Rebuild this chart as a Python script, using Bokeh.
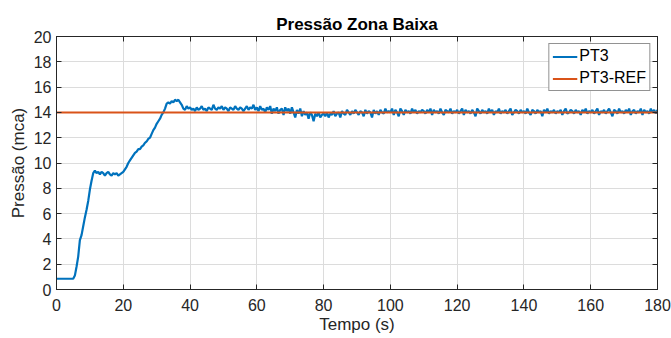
import numpy as np
from bokeh.plotting import figure
from bokeh.models import LinearAxis, Range1d, FixedTicker, Legend, LegendItem
from bokeh.embed import file_html
from bokeh.resources import INLINE

# ---- data (0.5 s sampling) ----
pt3_0_40 = [
    0.85, 0.85, 0.85, 0.85, 0.85, 0.85, 0.85, 0.85, 0.85, 0.85, 0.85, 1.1, 1.8, 2.6, 3.9, 4.3, 5.0, 5.7, 6.3, 7.0,
    7.9, 8.6, 9.2, 9.4, 9.2, 9.3, 9.1, 9.3, 9.2, 9.0, 9.2, 9.3, 9.1, 9.0, 9.2, 9.1, 9.2, 9.0, 9.1, 9.2,
    9.3, 9.5, 9.7, 10.0, 10.2, 10.4, 10.6, 10.8, 10.9, 11.1, 11.1, 11.3, 11.4, 11.6, 11.7, 11.9, 12.0, 12.3, 12.6, 12.8,
    13.1, 13.3, 13.5, 13.8, 14.0, 14.3, 14.7, 14.8, 14.7, 14.9, 14.8, 15.0, 14.9, 15.0, 14.8, 14.6, 14.3, 14.2, 14.5, 14.3,
]
pt3_40_80 = [
    14.4, 14.2, 14.3, 14.1, 14.4, 14.2, 14.3, 14.5, 14.2, 14.3, 14.1, 14.4, 14.3, 14.2, 14.6, 14.3, 14.2, 14.4, 14.3, 14.5,
    14.2, 14.4, 14.3, 14.1, 14.4, 14.3, 14.2, 14.5, 14.3, 14.2, 14.4, 14.3, 14.1, 14.3, 14.5, 14.2, 14.4, 14.3, 14.6, 14.2,
    14.4, 14.1, 14.5, 14.2, 14.3, 14.0, 14.4, 14.2, 14.5, 13.9, 14.3, 14.1, 14.4, 13.9, 14.2, 14.3, 13.8, 14.4, 14.1, 14.3,
    13.9, 14.4, 14.0, 13.6, 14.2, 13.9, 14.3, 13.7, 14.1, 13.8, 14.0, 13.5, 14.0, 13.8, 13.3, 13.9, 13.7, 14.0, 13.6, 13.8,
]
pt3_80_120 = [
    13.9, 13.7, 14.0, 13.6, 13.9, 13.8, 14.1, 13.7, 13.9, 14.0, 13.6, 14.1, 13.9, 13.8, 14.2, 14.0, 13.8, 14.1, 13.9, 14.2,
    14.0, 13.8, 14.1, 14.0, 13.7, 14.2, 13.9, 14.1, 14.0, 13.6, 14.2, 13.9, 14.1, 13.8, 14.2, 14.0, 13.9, 14.3, 14.0, 14.1,
    14.0, 14.3, 13.8, 14.2, 14.0, 13.7, 14.3, 14.1, 13.8, 14.2, 14.0, 14.1, 13.9, 14.3, 14.0, 14.2, 13.9, 14.1, 14.0, 14.2,
    14.1, 13.9, 14.2, 14.0, 14.3, 13.8, 14.2, 14.0, 14.1, 13.9, 14.3, 14.0, 13.8, 14.2, 14.1, 14.0, 14.3, 13.9, 14.1, 14.0,
]
pt3_120_180 = [
    14.2, 13.9, 14.1, 14.3, 13.8, 14.2, 14.0, 14.1, 13.9, 14.2, 14.0, 13.7, 14.3, 14.1, 13.9, 14.2, 14.0, 14.1, 13.9, 14.3,
    14.0, 14.2, 13.8, 14.1, 14.0, 14.3, 13.9, 14.1, 14.0, 14.2, 13.9, 14.1, 14.3, 13.8, 14.0, 14.2, 14.1, 13.9, 14.2, 14.0,
    14.1, 13.9, 14.3, 14.0, 13.8, 14.2, 14.1, 13.9, 14.2, 14.0, 14.1, 13.7, 14.2, 14.0, 14.3, 13.9, 14.1, 14.0, 14.2, 13.9,
    14.1, 14.0, 14.2, 13.8, 14.1, 14.3, 13.9, 14.0, 14.2, 14.1, 13.9, 14.2, 14.0, 14.1, 13.8, 14.2, 14.0, 14.3, 13.9, 14.1,
    14.0, 14.2, 13.9, 14.1, 14.3, 13.8, 14.1, 14.0, 14.2, 13.9, 14.1, 14.3, 14.0, 13.7, 14.2, 14.1, 13.9, 14.3, 14.0, 14.1,
    13.9, 14.2, 14.0, 14.3, 13.8, 14.1, 14.2, 13.9, 14.1, 14.0, 14.3, 13.8, 14.2, 14.0, 14.1, 13.9, 14.3, 14.0, 14.2, 13.9, 14.2,
]
pt3 = pt3_0_40 + pt3_40_80 + pt3_80_120 + pt3_120_180
tempo = [i * 0.5 for i in range(len(pt3))]
ref_t = [0, 180]
ref_v = [14, 14]
x_ticks = [0, 20, 40, 60, 80, 100, 120, 140, 160, 180]
y_ticks = [0, 2, 4, 6, 8, 10, 12, 14, 16, 18, 20]

FONT = "Liberation Sans"
TXT = "#262626"

p = figure(width=671, height=338, output_backend="svg", toolbar_location=None,
           x_range=Range1d(0, 180), y_range=Range1d(0, 20),
           min_border_left=56, min_border_right=14, min_border_top=36, min_border_bottom=49)
p.title.text = "Pressão Zona Baixa"
p.title.align = "center"
p.title.text_font = FONT
p.title.text_font_size = "17px"
p.title.text_font_style = "bold"
p.title.text_color = "#000000"
p.title.standoff = 5

for ax in (p.xaxis[0], p.yaxis[0]):
    ax.major_label_text_font = FONT
    ax.major_label_text_font_size = "16px"
    ax.major_label_text_color = TXT
    ax.axis_label_text_font = FONT
    ax.axis_label_text_font_size = "17px"
    ax.axis_label_text_font_style = "normal"
    ax.axis_label_text_color = TXT
    ax.axis_line_color = TXT
    ax.major_tick_line_color = TXT
    ax.major_tick_in = 5
    ax.major_tick_out = 0
    ax.minor_tick_line_color = None

p.xaxis.ticker = FixedTicker(ticks=x_ticks)
p.yaxis.ticker = FixedTicker(ticks=y_ticks)
p.xaxis.axis_label = "Tempo (s)"
p.yaxis.axis_label = "Pressão (mca)"
p.xaxis.major_label_standoff = 9
p.yaxis.major_label_standoff = 5
p.xaxis.axis_label_standoff = 1
p.yaxis.axis_label_standoff = 3

for loc, tk in (("above", x_ticks), ("right", y_ticks)):
    a = LinearAxis(ticker=FixedTicker(ticks=tk), major_label_text_font_size="1px",
                   major_label_text_color=None,
                   major_label_standoff=0, major_tick_in=5, major_tick_out=0,
                   minor_tick_line_color=None, axis_line_color=TXT, major_tick_line_color=TXT)
    p.add_layout(a, loc)

p.xgrid.ticker = FixedTicker(ticks=x_ticks)
p.ygrid.ticker = FixedTicker(ticks=y_ticks)
p.grid.grid_line_color = "#dcdcdc"
p.grid.grid_line_width = 1
p.outline_line_color = TXT

r1 = p.line(tempo, pt3, line_color="#0072BD", line_width=2.2)
r2 = p.line(ref_t, ref_v, line_color="#D95319", line_width=2)

leg = Legend(items=[LegendItem(label="PT3", renderers=[r1]),
                    LegendItem(label="PT3-REF", renderers=[r2])],
             location="top_right", label_text_font=FONT, label_text_font_size="16px",
             label_text_color="#000000", glyph_width=25, glyph_height=17,
             label_height=17, spacing=4, padding=3, margin=7,
             border_line_color="#262626", border_line_width=1, label_standoff=2)
p.add_layout(leg, "center")

open("out.html", "w").write(file_html(p, INLINE))
